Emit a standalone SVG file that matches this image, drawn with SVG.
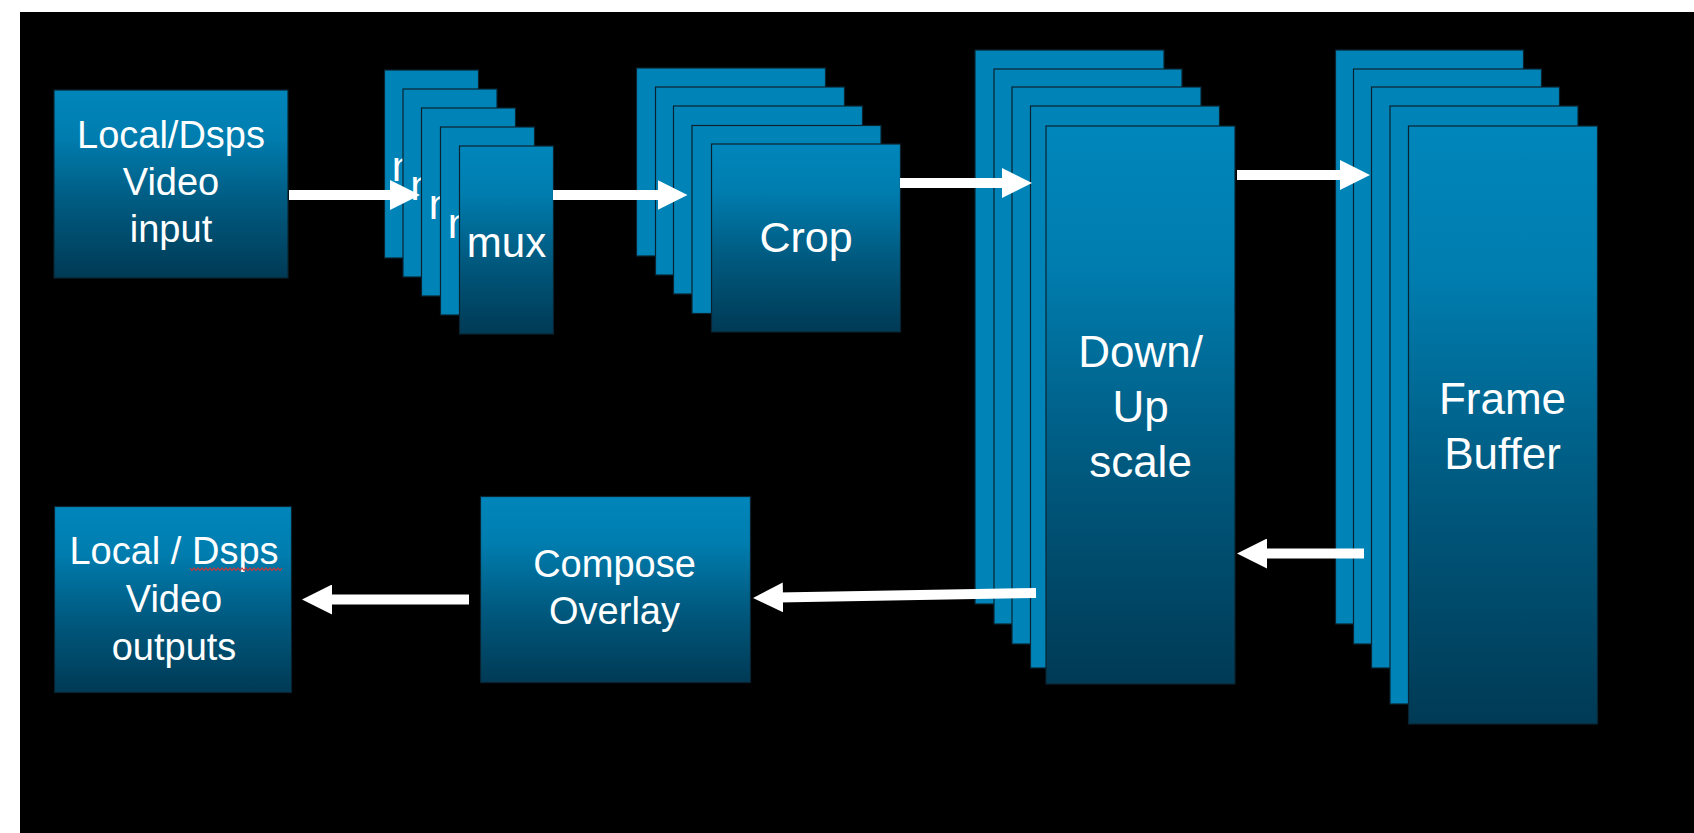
<svg xmlns="http://www.w3.org/2000/svg" width="1694" height="833" viewBox="0 0 1694 833">
<defs>
<linearGradient id="gfront" x1="0" y1="0" x2="0" y2="1">
<stop offset="0" stop-color="#0086BB"/>
<stop offset="0.25" stop-color="#007DAF"/>
<stop offset="0.6" stop-color="#005A80"/>
<stop offset="1" stop-color="#003A55"/>
</linearGradient>
<clipPath id="c1"><rect x="384.5" y="70" width="18.5" height="188"/></clipPath>
<clipPath id="c2"><rect x="403" y="89" width="18.5" height="188"/></clipPath>
<clipPath id="c3"><rect x="421.5" y="108" width="19" height="188"/></clipPath>
<clipPath id="c4"><rect x="440.5" y="127" width="19" height="188"/></clipPath>
<marker id="ah" viewBox="0 0 30 30" refX="5" refY="15" markerWidth="30" markerHeight="30" markerUnits="userSpaceOnUse" orient="auto">
<path d="M0,0 L30,15 L0,30 Z" fill="#FFFFFF"/>
</marker>
<style>
.back{fill:#0083B7;stroke:#0A2330;stroke-width:1.2}
.front{fill:url(#gfront);stroke:#0A2330;stroke-width:1.2}
.lbl{fill:#FFFFFF;font-family:"Liberation Sans",Arial,sans-serif;text-anchor:middle}
.arr{stroke:#FFFFFF;stroke-width:10;fill:none;marker-end:url(#ah)}
</style>
</defs>
<rect x="0" y="0" width="1694" height="833" fill="#FFFFFF"/>
<rect x="20" y="12" width="1674" height="821" fill="#000000"/>

<g id="input">
<rect class="front" x="54" y="90" width="234" height="188"/>
<text class="lbl" font-size="38" x="171"><tspan x="171" y="148">Local/Dsps</tspan><tspan x="171" y="195">Video</tspan><tspan x="171" y="242">input</tspan></text>
</g>

<g id="mux">
<rect class="back" x="384.5" y="70" width="94" height="188"/>
<text class="lbl" font-size="42" x="431.5" y="181" clip-path="url(#c1)">mux</text>
<rect class="back" x="403" y="89" width="94" height="188"/>
<text class="lbl" font-size="42" x="450" y="200" clip-path="url(#c2)">mux</text>
<rect class="back" x="421.5" y="108" width="94" height="188"/>
<text class="lbl" font-size="42" x="468.5" y="219" clip-path="url(#c3)">mux</text>
<rect class="back" x="440.5" y="127" width="94" height="188"/>
<text class="lbl" font-size="42" x="487.5" y="238" clip-path="url(#c4)">mux</text>
<rect class="front" x="459.5" y="146" width="94" height="188"/>
<text class="lbl" font-size="42" x="506.5" y="257">mux</text>
</g>

<g id="crop">
<rect class="back" x="636.5" y="68" width="189" height="188"/>
<rect class="back" x="655.5" y="87" width="189" height="188"/>
<rect class="back" x="673.5" y="106" width="189" height="188"/>
<rect class="back" x="692" y="125.5" width="189" height="188"/>
<rect class="front" x="711.5" y="144" width="189" height="188"/>
<text class="lbl" font-size="43" x="806" y="252">Crop</text>
</g>

<g id="scale">
<rect class="back" x="975" y="50" width="189" height="554"/>
<rect class="back" x="994" y="69" width="188" height="555"/>
<rect class="back" x="1012" y="87" width="189" height="557"/>
<rect class="back" x="1030.5" y="106" width="189" height="562"/>
<rect class="front" x="1046" y="126" width="189" height="558"/>
<text class="lbl" font-size="44" x="1140.5"><tspan x="1140.5" y="367">Down/</tspan><tspan x="1140.5" y="422">Up</tspan><tspan x="1140.5" y="477">scale</tspan></text>
</g>

<g id="framebuffer">
<rect class="back" x="1335.5" y="50" width="188" height="574"/>
<rect class="back" x="1353.5" y="69" width="188" height="575"/>
<rect class="back" x="1371.5" y="87" width="188" height="581"/>
<rect class="back" x="1390" y="106" width="188" height="598"/>
<rect class="front" x="1408.5" y="126" width="189" height="598"/>
<text class="lbl" font-size="44" x="1502.5"><tspan x="1502.5" y="413.5">Frame</tspan><tspan x="1502.5" y="469">Buffer</tspan></text>
</g>

<g id="compose">
<rect class="front" x="480.5" y="496.5" width="270" height="186"/>
<text class="lbl" font-size="38" x="614.5"><tspan x="614.5" y="577">Compose</tspan><tspan x="614.5" y="624">Overlay</tspan></text>
</g>

<g id="output">
<rect class="front" x="54.5" y="506.5" width="237" height="186"/>
<text class="lbl" font-size="38" x="174"><tspan x="174" y="563.5">Local / Dsps</tspan><tspan x="174" y="611.5">Video</tspan><tspan x="174" y="659.5">outputs</tspan></text>
<polyline points="190,568 192,570.5 194,568 196,570.5 198,568 200,570.5 202,568 204,570.5 206,568 208,570.5 210,568 212,570.5 214,568 216,570.5 218,568 220,570.5 222,568 224,570.5 226,568 228,570.5 230,568 232,570.5 234,568 236,570.5 238,568 240,570.5 242,568 244,570.5 246,568 248,570.5 250,568 252,570.5 254,568 256,570.5 258,568 260,570.5 262,568 264,570.5 266,568 268,570.5 270,568 272,570.5 274,568 276,570.5 278,568 280,570.5 282,568" fill="none" stroke="#C8393B" stroke-width="1.2"/>
</g>

<g id="connectors">
<line class="arr" x1="289" y1="195" x2="395" y2="195"/>
<line class="arr" x1="553" y1="195" x2="662.5" y2="195"/>
<line class="arr" x1="900" y1="183" x2="1007" y2="183"/>
<line class="arr" x1="1237" y1="175" x2="1345" y2="175"/>
<line class="arr" x1="1364" y1="553.5" x2="1262" y2="553.5"/>
<line class="arr" x1="1036" y1="593" x2="778" y2="597.5"/>
<line class="arr" x1="469" y1="599.5" x2="327" y2="599.5"/>
</g>
</svg>
